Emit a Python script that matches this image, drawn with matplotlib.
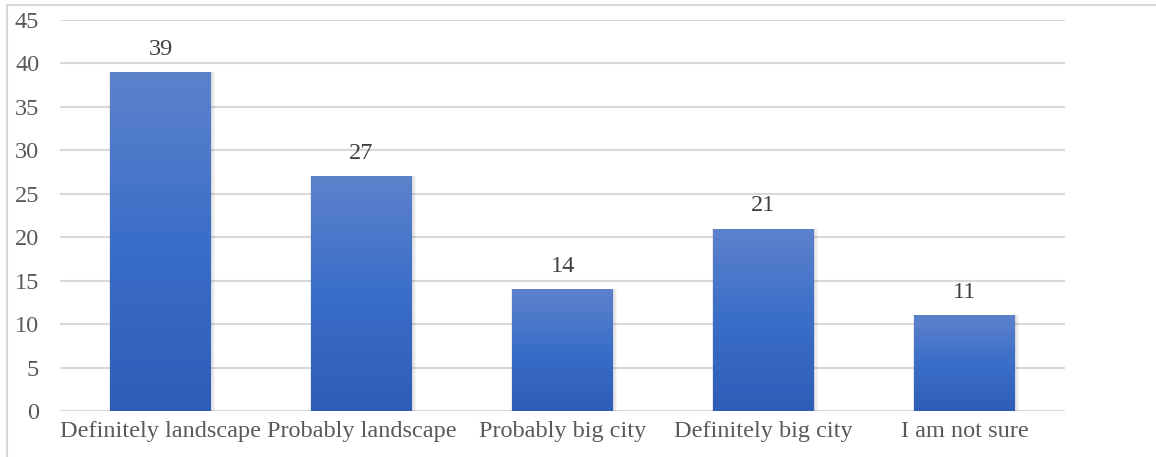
import numpy as np
import matplotlib.pyplot as plt
from matplotlib.patches import Rectangle
from matplotlib.colors import LinearSegmentedColormap

categories = ['Definitely landscape', 'Probably landscape', 'Probably big city',
              'Definitely big city', 'I am not sure']
counts = [39, 27, 14, 21, 11]
y_ticks = [0, 5, 10, 15, 20, 25, 30, 35, 40, 45]

plt.rcParams['font.family'] = ['Liberation Serif', 'DejaVu Serif']

fig = plt.figure(figsize=(11.56, 4.57), dpi=100)
W, H = 1156, 457

# light frame around the chart area
fig.patches.append(Rectangle((7 / W, -0.1), 1.2, 1 - 5 / H + 0.1, transform=fig.transFigure,
                             fill=False, edgecolor='#d9d9d9', linewidth=1.5))

ax = fig.add_axes([60 / W, 46 / H, 1005 / W, 391 / H])
ax.set_xlim(-0.5, len(categories) - 0.5)
ax.set_ylim(0, 45)
ax.set_yticks(y_ticks)
ax.set_xticks(range(len(categories)))
ax.set_xticklabels(categories)
ax.tick_params(axis='both', length=0, labelsize=17.5, labelcolor='#595959')
ax.tick_params(axis='y', pad=15)
ax.tick_params(axis='x', pad=7)
for s in ax.spines.values():
    s.set_visible(False)
ax.grid(axis='y', color='#d9d9d9', linewidth=1.5)
ax.set_axisbelow(True)

cmap = LinearSegmentedColormap.from_list('bar', ['#2e5db8', '#3a6ec8', '#5d82cc'])
grad = np.linspace(0, 1, 256).reshape(-1, 1)
width = 0.5

for i, v in enumerate(counts):
    x0 = i - width / 2
    # soft shadow, offset slightly right and down
    for k, a in enumerate([0.07, 0.05, 0.03]):
        d = 0.005 * (k + 1)
        ax.add_patch(Rectangle((x0 - d * 0.5, -0.3), width + 2 * d, v + 0.3,
                               facecolor='black', edgecolor='none', alpha=a, zorder=2))
    bar = Rectangle((x0, 0), width, v, facecolor='none', edgecolor='none', zorder=3)
    ax.add_patch(bar)
    img = ax.imshow(grad, cmap=cmap, extent=(x0, x0 + width, 0, v), origin='lower',
                    aspect='auto', zorder=3)
    img.set_clip_path(bar)
    ax.annotate(str(v), (i, v), xytext=(0, 9), textcoords='offset points',
                ha='center', va='bottom', fontsize=17.5, color='#404040')

ax.set_xlim(-0.5, len(categories) - 0.5)
ax.set_ylim(0, 45)

fig.savefig('out.png', dpi=100)
